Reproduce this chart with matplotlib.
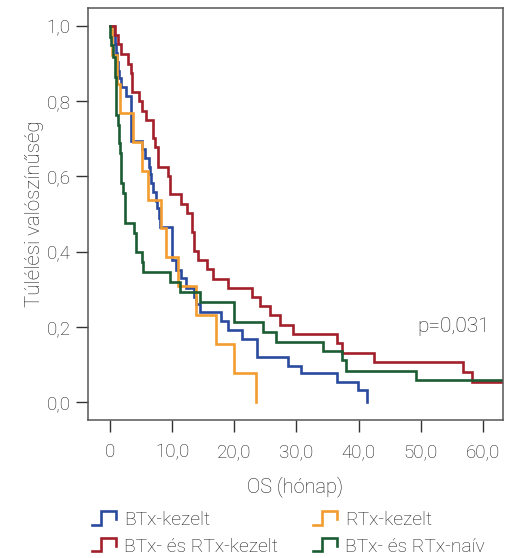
import numpy as np
import matplotlib.pyplot as plt
from matplotlib.lines import Line2D
from matplotlib.legend_handler import HandlerBase

plt.rcParams['font.family'] = ['Roboto', 'DejaVu Sans']
plt.rcParams['font.weight'] = 'light'
plt.rcParams['axes.labelweight'] = 'light'

# --- Kaplan-Meier steps (month, survival after the step) ---
bt_t = [0.7, 0.9, 1.0, 1.1, 1.25, 1.5, 1.77, 2.57, 3.49, 5.25, 5.63, 6.3, 6.45,
        6.7, 6.97, 7.35, 7.6, 7.9, 8.05, 10.0, 10.7, 11.4, 12.2, 13.6, 13.9,
        14.5, 17.8, 19.0, 21.2, 23.6, 28.7, 30.7, 36.6, 39.9, 41.4]
bt_s = [0.976, 0.952, 0.928, 0.904, 0.88, 0.861, 0.839, 0.814, 0.695, 0.672,
        0.65, 0.625, 0.606, 0.583, 0.559, 0.535, 0.515, 0.49, 0.466, 0.378,
        0.351, 0.329, 0.304, 0.28, 0.261, 0.24, 0.215, 0.191, 0.168, 0.12,
        0.096, 0.076, 0.052, 0.032, 0.0]

rt_t = [0.4, 1.18, 1.72, 3.75, 5.1, 6.17, 8.2, 9.1, 10.9, 13.9, 17.05, 20.0, 23.5]
rt_s = [0.923, 0.846, 0.769, 0.692, 0.615, 0.538, 0.462, 0.385, 0.308, 0.231,
        0.154, 0.077, 0.0]

btrt_t = [0.8, 1.34, 1.88, 2.95, 3.49, 3.65, 4.7, 5.1, 5.8, 6.97, 7.24, 7.77,
          9.38, 9.65, 11.5, 12.4, 13.2, 13.5, 14.1, 15.7, 16.6, 19.0, 22.8,
          24.2, 25.8, 27.4, 29.4, 36.6, 37.4, 42.5, 56.7, 58.3, 64.0]
btrt_s = [0.976, 0.951, 0.925, 0.90, 0.874, 0.825, 0.801, 0.775, 0.75, 0.701,
          0.679, 0.626, 0.602, 0.553, 0.527, 0.502, 0.453, 0.402, 0.378, 0.353,
          0.327, 0.304, 0.278, 0.255, 0.23, 0.205, 0.18, 0.156, 0.131, 0.105,
          0.081, 0.054, 0.054]

naiv_t = [0.05, 0.16, 0.54, 0.8, 0.97, 1.34, 1.5, 1.72, 1.88, 2.14, 2.41, 3.86,
          4.18, 5.2, 5.36, 9.65, 11.26, 14.48, 20.0, 24.7, 26.7, 34.2, 37.3,
          37.9, 49.3, 64.0]
naiv_s = [0.972, 0.949, 0.918, 0.865, 0.763, 0.737, 0.688, 0.661, 0.582, 0.555,
          0.477, 0.45, 0.40, 0.373, 0.347, 0.32, 0.293, 0.267, 0.214, 0.187,
          0.16, 0.136, 0.112, 0.083, 0.059, 0.059]

labels = ['BTx-kezelt', 'RTx-kezelt', 'BTx- és RTx-kezelt', 'BTx- és RTx-naív']
colors = ['#2a4a9e', '#f39c2f', '#a3202b', '#1b5c33']
txt = '#1e1e1e'

xticks = [0, 10, 20, 30, 40, 50, 60]
xticklabels = ['0', '10,0', '20,0', '30,0', '40,0', '50,0', '60,0']
yticks = [0.0, 0.2, 0.4, 0.6, 0.8, 1.0]
yticklabels = ['0,0', '0,2', '0,4', '0,6', '0,8', '1,0']


class StepHandler(HandlerBase):
    def create_artists(self, legend, orig_handle, xdescent, ydescent,
                       width, height, fontsize, trans):
        xs = np.array([0, 0.38, 0.38, 1, 1]) * width - xdescent
        ys = np.array([0, 0, 1, 1, 0.4]) * height * 1.1 - ydescent
        ln = Line2D(xs, ys, color=orig_handle.get_color(),
                    lw=orig_handle.get_linewidth(), solid_joinstyle='miter')
        ln.set_transform(trans)
        return [ln]


fig = plt.figure(figsize=(5.07, 5.58), dpi=100)
ax = fig.add_axes([0.1736, 0.2473, 0.8184, 0.7384])

series = [(bt_t, bt_s), (rt_t, rt_s), (btrt_t, btrt_s), (naiv_t, naiv_s)]
handles = []
for (t, s), c, lab in zip(series, colors, labels):
    tt = np.concatenate([[0.0], t])
    ss = np.concatenate([[1.0], s])
    h, = ax.step(tt, ss, where='post', color=c, lw=1.9, label=lab,
                 solid_joinstyle='miter')
    handles.append(h)

ax.set_xlim(-3.5, 63.2)
ax.set_ylim(-0.048, 1.048)
ax.set_xticks(xticks)
ax.set_xticklabels(xticklabels)
ax.set_yticks(yticks)
ax.set_yticklabels(yticklabels)
ax.tick_params(length=8.5, width=1.0, color='#333333', labelsize=13.5,
               labelcolor=txt)
ax.tick_params(axis='x', pad=8)
ax.tick_params(axis='y', pad=4)
for sp in ax.spines.values():
    sp.set_color('#555555')
    sp.set_linewidth(1.1)

ax.set_xlabel('OS (hónap)', fontsize=14.4, color=txt, labelpad=11,
              fontweight='light')
ax.set_ylabel('Túlélési valószínűség', fontsize=14.8, color=txt,
              labelpad=2, fontweight='light')
ax.text(49.5, 0.2, 'p=0,031', fontsize=15, color=txt,
        va='center', ha='left')

# order: row 1 = blue, orange ; row 2 = red, green
fig.legend([handles[0], handles[2], handles[1], handles[3]],
           [labels[0], labels[2], labels[1], labels[3]],
           ncol=2, loc='upper left', bbox_to_anchor=(0.162, 0.101),
           frameon=False, fontsize=13.9, handlelength=1.25, handleheight=0.6,
           handletextpad=0.4, columnspacing=1.85, labelspacing=0.45,
           borderpad=0, handler_map={Line2D: StepHandler()},
           labelcolor=txt)

plt.savefig('out.png', dpi=100)
plt.close()
